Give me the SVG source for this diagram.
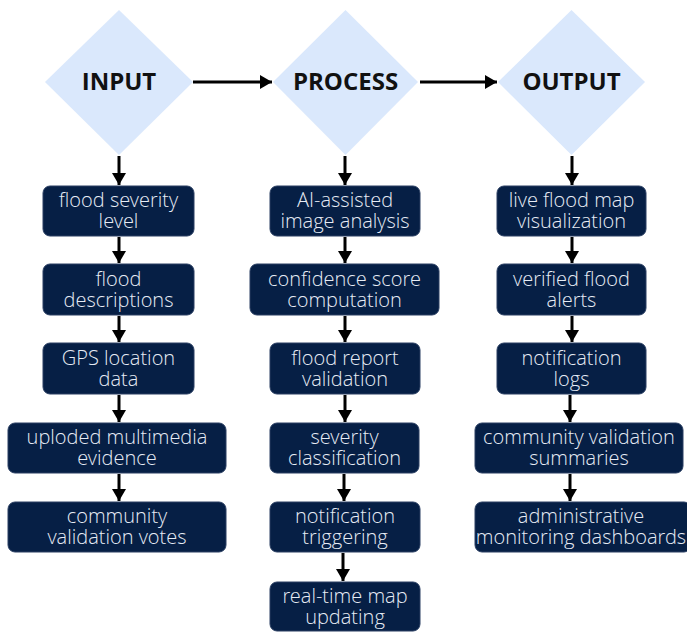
<svg xmlns="http://www.w3.org/2000/svg" width="687" height="632" viewBox="0 0 687 632">
<defs>
<marker id="ah" markerUnits="userSpaceOnUse" markerWidth="14" markerHeight="14" refX="12" refY="7" orient="auto">
<path d="M0,0 L12,7 L0,14 Z" fill="#000"/>
</marker>
<style>
.dia{fill:#dae8fc}
.hd{font-family:"Open Sans","Liberation Sans",sans-serif;font-weight:700;font-size:24px;fill:#111;text-anchor:middle}
.box{fill:#061f45;stroke:#2a3f63;stroke-width:1}
.t{font-family:"Open Sans Light","Open Sans","Liberation Sans",sans-serif;font-weight:300;font-size:20px;fill:#e6ecf5;text-anchor:middle}
.c{stroke:#000;stroke-width:3;fill:none;marker-end:url(#ah)}
</style>
</defs>
<rect width="687" height="632" fill="#fff"/>
<g id="connectors">
<path class="c" d="M193,82 H272"/>
<path class="c" d="M420,82 H497"/>
<path class="c" d="M119,156 V185"/>
<path class="c" d="M119,237 V263"/>
<path class="c" d="M119,316 V342"/>
<path class="c" d="M119,395 V422"/>
<path class="c" d="M119,474 V501"/>
<path class="c" d="M345,156 V185"/>
<path class="c" d="M345,237 V263"/>
<path class="c" d="M345,316 V342"/>
<path class="c" d="M345,395 V422"/>
<path class="c" d="M344,474 V501"/>
<path class="c" d="M343,553 V581"/>
<path class="c" d="M572,156 V185"/>
<path class="c" d="M572,237 V263"/>
<path class="c" d="M572,316 V342"/>
<path class="c" d="M570,395 V422"/>
<path class="c" d="M570,474 V501"/>
</g>
<g id="input"><path class="dia" d="M119,10 L193,82 L119,155 L45,82 Z"/><text class="hd" x="119" y="90">INPUT</text></g>
<g id="process"><path class="dia" d="M345.5,10 L418,82 L345.5,155 L273,82 Z"/><text class="hd" x="345.5" y="90">PROCESS</text></g>
<g id="output"><path class="dia" d="M571.5,10 L645,82 L571.5,155 L498,82 Z"/><text class="hd" x="571.5" y="90">OUTPUT</text></g>

<g id="i1"><rect class="box" x="43" y="186" width="151" height="50" rx="7"/><text class="t" x="118.5" y="207">flood severity</text><text class="t" x="118.5" y="228">level</text></g>
<g id="i2"><rect class="box" x="43" y="264" width="151" height="51" rx="7"/><text class="t" x="118.5" y="286">flood</text><text class="t" x="118.5" y="307">descriptions</text></g>
<g id="i3"><rect class="box" x="43" y="343" width="151" height="51" rx="7"/><text class="t" x="118.5" y="365">GPS location</text><text class="t" x="118.5" y="386">data</text></g>
<g id="i4"><rect class="box" x="8" y="423" width="218" height="50" rx="7"/><text class="t" x="117" y="444">uploded multimedia</text><text class="t" x="117" y="465">evidence</text></g>
<g id="i5"><rect class="box" x="8" y="502" width="218" height="50" rx="7"/><text class="t" x="117" y="523">community</text><text class="t" x="117" y="544">validation votes</text></g>

<g id="p1"><rect class="box" x="270" y="186" width="150" height="50" rx="7"/><text class="t" x="345" y="207">AI-assisted</text><text class="t" x="345" y="228">image analysis</text></g>
<g id="p2"><rect class="box" x="250" y="264" width="189" height="51" rx="7"/><text class="t" x="344.5" y="286">confidence score</text><text class="t" x="344.5" y="307">computation</text></g>
<g id="p3"><rect class="box" x="270" y="343" width="150" height="51" rx="7"/><text class="t" x="345" y="365">flood report</text><text class="t" x="345" y="386">validation</text></g>
<g id="p4"><rect class="box" x="270" y="423" width="149" height="50" rx="7"/><text class="t" x="344.5" y="444">severity</text><text class="t" x="344.5" y="465">classification</text></g>
<g id="p5"><rect class="box" x="270" y="502" width="150" height="50" rx="7"/><text class="t" x="345" y="523">notification</text><text class="t" x="345" y="544">triggering</text></g>
<g id="p6"><rect class="box" x="270" y="582" width="150" height="49" rx="7"/><text class="t" x="345" y="603">real-time map</text><text class="t" x="345" y="624">updating</text></g>

<g id="o1"><rect class="box" x="497" y="186" width="149" height="50" rx="7"/><text class="t" x="571.5" y="207">live flood map</text><text class="t" x="571.5" y="228">visualization</text></g>
<g id="o2"><rect class="box" x="497" y="264" width="149" height="51" rx="7"/><text class="t" x="571.5" y="286">verified flood</text><text class="t" x="571.5" y="307">alerts</text></g>
<g id="o3"><rect class="box" x="497" y="343" width="149" height="51" rx="7"/><text class="t" x="571.5" y="365">notification</text><text class="t" x="571.5" y="386">logs</text></g>
<g id="o4"><rect class="box" x="475" y="423" width="208" height="50" rx="7"/><text class="t" x="579" y="444">community validation</text><text class="t" x="579" y="465">summaries</text></g>
<g id="o5"><rect class="box" x="475" y="502" width="216" height="50" rx="7"/><text class="t" x="581" y="523">administrative</text><text class="t" x="581" y="544">monitoring dashboards</text></g>
</svg>
